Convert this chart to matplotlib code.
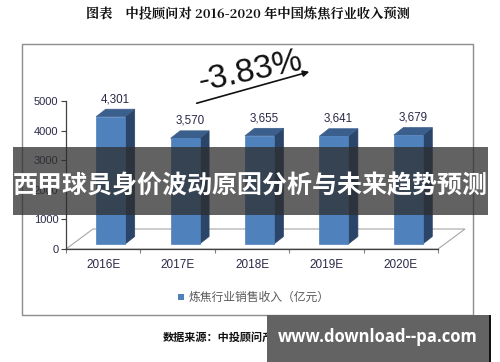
import matplotlib
matplotlib.use("Agg")
import matplotlib.pyplot as plt
from matplotlib.patches import Polygon, Rectangle
from matplotlib.transforms import ScaledTranslation
import numpy as np

categories = ["2016E", "2017E", "2018E", "2019E", "2020E"]
values = [4301, 3570, 3655, 3641, 3679]
value_labels = ["4,301", "3,570", "3,655", "3,641", "3,679"]
yticks = [0, 1000, 2000, 3000, 4000, 5000]
title = "图表    中投顾问对 2016-2020 年中国炼焦行业收入预测"
legend_label = "炼焦行业销售收入（亿元）"
growth_label = "-3.83%"
banner = "西甲球员身价波动原因分析与未来趋势预测"
source = "数据来源：中投顾问产业研究中心"
site = "www.download--pa.com"

CJK = ["Noto Sans CJK SC", "DejaVu Sans"]
ARIAL = ["Liberation Sans", "DejaVu Sans"]
TXT = "#2a2a48"

W, H = 500, 362
fig = plt.figure(figsize=(W / 100, H / 100), dpi=100)
fig.patch.set_facecolor("white")

def fx(px):
    return px / W

def fy(py):
    return 1 - py / H

# chart border box
fig.patches.append(Rectangle((fx(22), fy(315)), fx(473) - fx(22), fy(44) - fy(315),
                             transform=fig.transFigure, fill=False, edgecolor="#8c8c8c", lw=1.0))

ax = fig.add_axes([fx(66), fy(249), fx(438) - fx(66), fy(101) - fy(249)])
ax.set_xlim(-0.5, len(categories) - 0.5)
ax.set_ylim(0, 5000)
ax.patch.set_visible(False)
for s in ["top", "right"]:
    ax.spines[s].set_visible(False)
ax.spines["left"].set_color("#404040")
ax.spines["bottom"].set_color("#404040")
ax.spines["left"].set_linewidth(0.9)
ax.spines["bottom"].set_linewidth(0.9)

ax.set_yticks(yticks)
ax.set_yticklabels([str(v) for v in yticks], fontsize=8, family=ARIAL, color=TXT)
ax.tick_params(axis="y", length=3.5, width=0.8, color="#404040", pad=2)
x = np.arange(len(categories))
ax.set_xticks(np.arange(-0.5, len(categories), 1.0))
ax.set_xticklabels([])
ax.set_xticks(x, minor=True)
ax.set_xticklabels(categories, minor=True, fontsize=8.5, family=ARIAL, color=TXT)
ax.tick_params(axis="x", which="major", length=3, width=0.8, color="#808080")
ax.tick_params(axis="x", which="minor", length=0, pad=7)

# pixel -> data conversions
px_x = (len(categories)) / (438 - 66)
px_y = 5000 / (249 - 101)

# floor
FDX, FDY = 27, 20
x0, x1 = -0.5, len(categories) - 0.5
floor = Polygon([(x0, 0), (x1, 0), (x1 + FDX * px_x, FDY * px_y), (x0 + FDX * px_x, FDY * px_y)],
                closed=True, facecolor="white", edgecolor="#a6a6a6", lw=0.8, zorder=1, clip_on=False)
ax.add_patch(floor)

# bars (3D look)
bw = 29 * px_x
bx_shift = 7.5 * px_x
by_shift = 5 * px_y
DX, DY = 9.5 * px_x, 7.5 * px_y
front_c, side_c, top_c = "#4f81bd", "#2b4568", "#3b5f8c"
for xi, v, lab in zip(x, values, value_labels):
    l = xi + bx_shift - bw / 2
    r = l + bw
    b = by_shift
    t = by_shift + v
    ax.add_patch(Polygon([(r, b), (r + DX, b + DY), (r + DX, t + DY), (r, t)], closed=True,
                         facecolor=side_c, edgecolor=side_c, lw=0.5, zorder=3, clip_on=False))
    ax.add_patch(Polygon([(l, t), (r, t), (r + DX, t + DY), (l + DX, t + DY)], closed=True,
                         facecolor=top_c, edgecolor=top_c, lw=0.5, zorder=3, clip_on=False))
    ax.bar(xi + bx_shift, v, width=bw, bottom=b, color=front_c, edgecolor=front_c, lw=0.5, zorder=4)
    ax.text(xi + bx_shift + DX / 2, t + DY + 130, lab, ha="center", va="bottom",
            fontsize=8.4, family=ARIAL, color=TXT, zorder=5)

# title
fig.text(fx(248), fy(14), title, ha="center", va="center", fontsize=9.5,
         family=["Noto Serif CJK SC", "Noto Sans CJK SC", "DejaVu Sans"], weight="bold", color="#111111")

# growth annotation
fig.text(fx(251), fy(72), growth_label, ha="center", va="center", fontsize=24,
         family=ARIAL, rotation=12, rotation_mode="anchor", color="#111111")
fig.patches.append(matplotlib.patches.FancyArrowPatch((fx(194), fy(104)), (fx(312), fy(71)),
                   transform=fig.transFigure, arrowstyle="-|>", mutation_scale=9,
                   color="#111111", lw=1.2))

# legend
fig.patches.append(Rectangle((fx(178), fy(300)), fx(6) - fx(0), fy(0) - fy(6),
                             transform=fig.transFigure, facecolor=front_c, edgecolor="none"))
fig.text(fx(189), fy(297), legend_label, ha="left", va="center", fontsize=8.5,
         family=CJK, color="#595959")

# source
fig.text(fx(163), fy(337), source, ha="left", va="center", fontsize=8,
         family=CJK, weight="bold", color="#111111")

# banner overlay
fig.patches.append(Rectangle((fx(13), fy(215)), fx(488) - fx(13), fy(147) - fy(215),
                             transform=fig.transFigure, facecolor="#2e2e2e", alpha=0.75,
                             edgecolor="none", zorder=10))
fig.text(fx(250), fy(186), banner, ha="center", va="center", fontsize=18,
         family=CJK, weight="bold", color="white", zorder=11)

# site overlay
fig.patches.append(Rectangle((fx(267), fy(362)), fx(490) - fx(267), fy(315) - fy(362),
                             transform=fig.transFigure, facecolor="#636363",
                             edgecolor="none", zorder=10))
fig.patches.append(Rectangle((fx(489), fy(362)), fx(2), fy(315) - fy(362),
                             transform=fig.transFigure, facecolor="#111111",
                             edgecolor="none", zorder=10))
fig.text(fx(378), fy(337), site, ha="center", va="center", fontsize=12,
         family=["Open Sans", "DejaVu Sans"], weight="bold", color="white", zorder=11)

fig.savefig("out.png", dpi=100)
